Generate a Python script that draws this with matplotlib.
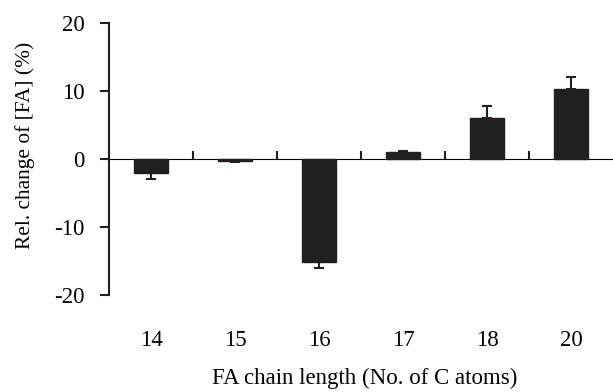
import numpy as np
import matplotlib.pyplot as plt

plt.rcParams["font.family"] = ["Liberation Serif", "DejaVu Serif"]
plt.rcParams["axes.unicode_minus"] = False

chain_lengths = ["14", "15", "16", "17", "18", "20"]
rel_change = [-2.0, -0.3, -15.1, 1.0, 6.1, 10.3]
rel_error = [1.0, 0.1, 0.9, 0.2, 1.7, 1.8]

y_ticks = [-20, -10, 0, 10, 20]

fig = plt.figure(figsize=(6.13, 3.92), dpi=100)
ax = fig.add_axes([0.178, 0.2474, 0.822, 0.6939])

x = np.arange(len(chain_lengths))
ax.bar(x, rel_change, width=0.4, color="#231f20", edgecolor="#231f20", zorder=3)

# one-sided error bars, pointing away from zero
yerr_lo = [e if v < 0 else 0 for v, e in zip(rel_change, rel_error)]
yerr_hi = [e if v >= 0 else 0 for v, e in zip(rel_change, rel_error)]
ax.errorbar(x, rel_change, yerr=[yerr_lo, yerr_hi], fmt="none",
            ecolor="#231f20", elinewidth=1.5, capsize=3.3, capthick=1.5, zorder=4)

ax.set_xlim(-0.5, len(chain_lengths) - 0.5)
ax.set_ylim(-20, 20)
ax.set_yticks(y_ticks)
ax.set_yticklabels([str(t) for t in y_ticks])

for s in ["top", "right", "bottom"]:
    ax.spines[s].set_visible(False)
ax.spines["left"].set_linewidth(1.5)
ax.spines["left"].set_color("#231f20")

ax.tick_params(axis="y", direction="out", length=6.5, width=1.5,
               color="#231f20", labelsize=16.5, pad=11)
ax.set_xticks(x)
ax.set_xticklabels(chain_lengths)
ax.tick_params(axis="x", length=0, labelsize=16.5, pad=25)

# zero line with separator ticks between the bars
zero_ax = ax.secondary_xaxis(0.5)
zero_ax.set_xticks(x[:-1] + 0.5)
zero_ax.set_xticklabels([])
zero_ax.spines["bottom"].set_linewidth(1.5)
zero_ax.spines["bottom"].set_color("#231f20")
zero_ax.tick_params(direction="out", length=6, width=1.5, color="#231f20")

ax.set_xlabel("FA chain length (No. of C atoms)", fontsize=16.5, labelpad=12, x=0.508)
ax.set_ylabel("Rel. change of [FA] (%)", fontsize=15.4, labelpad=14, y=0.55)

fig.savefig("out.png", dpi=100)
